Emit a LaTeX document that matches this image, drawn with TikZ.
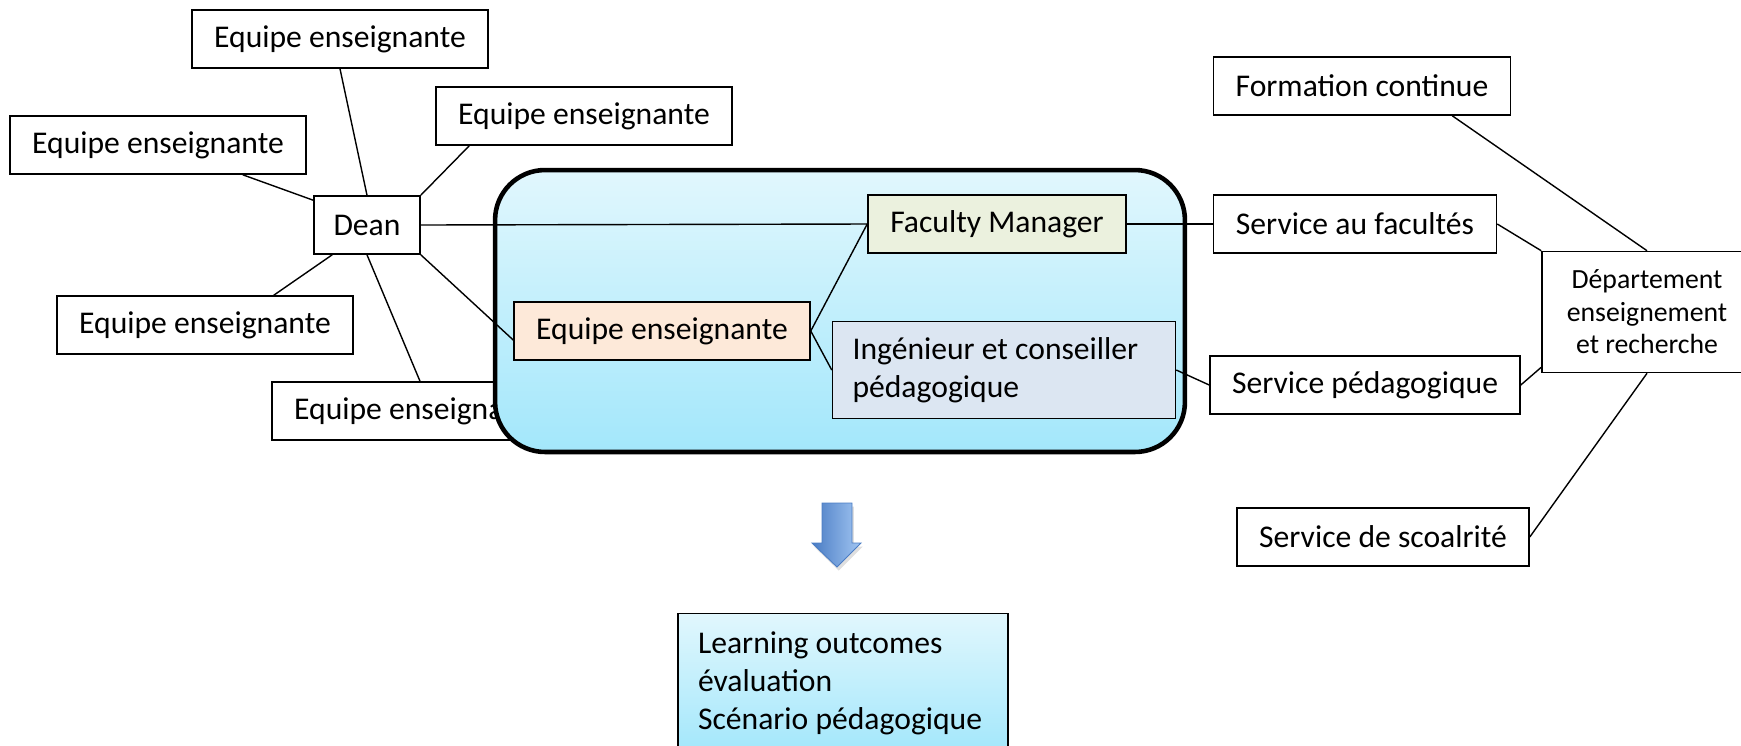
\documentclass[tikz,border=0pt]{standalone}
\usepackage{fontspec}
\setmainfont{Carlito}
\usetikzlibrary{shadows}

\definecolor{fmgreen}{HTML}{EBF1DE}
\definecolor{teampeach}{HTML}{FDE9D9}
\definecolor{ingblue}{HTML}{DCE6F2}
\definecolor{skytop}{HTML}{E1F7FD}
\definecolor{skybot}{HTML}{A3E7FB}
\definecolor{arrowdark}{HTML}{4A7CC4}
\definecolor{arrowlight}{HTML}{A2C6F2}

\begin{document}
\begin{tikzpicture}[x=0.02cm,y=-0.02cm,
  box/.style={draw,line width=0.9pt,fill=white,inner sep=0pt,
    minimum height=1.16cm,font=\fontsize{18}{21.6}\selectfont},
  eqbox/.style={box,minimum width=5.92cm},
  link/.style={line width=0.8pt}]
\useasboundingbox (0,0) rectangle (1741,745);

% Teams around the dean
\node[eqbox] (ee1) at (340,39) {Equipe enseignante};
\node[eqbox] (ee2) at (584,116) {Equipe enseignante};
\node[eqbox] (ee0) at (158,145) {Equipe enseignante};
\node[box,minimum width=2.12cm] (dean) at (367,225) {Dean};
\node[eqbox] (ee3) at (205,325) {Equipe enseignante};
\node[eqbox] (ee4) at (420,411) {Equipe enseignante};

% Central group
\node[draw,line width=2.6pt,rounded corners=1cm,top color=skytop,bottom color=skybot,
  minimum width=13.8cm,minimum height=5.64cm] (team) at (840,311) {};
\node[box,fill=fmgreen,minimum width=5.16cm] (fm) at (997,224) {Faculty Manager};
\node[eqbox,fill=teampeach] (eei) at (662,331) {Equipe enseignante};
\node[box,fill=ingblue,inner xsep=0.4cm,text width=6.06cm,align=flush left,
  minimum height=1.94cm] (ing) at (1004,370) {Ingénieur et conseiller\\pédagogique};

% Services
\node[box,minimum width=5.94cm] (fc) at (1362,86) {Formation continue};
\node[box,minimum width=5.66cm] (saf) at (1355,224) {Service au facultés};
\node[box,minimum width=4.2cm,minimum height=2.42cm,align=center,
  font=\fontsize{15.8}{18.5}\selectfont] (dept) at (1647,312) {Département\\enseignement\\et recherche};
\node[box,minimum width=6.2cm] (sp) at (1365,385) {Service pédagogique};
\node[box,minimum width=5.84cm] (sds) at (1383,537) {Service de scoalrité};

% Links
\draw[link] (ee1.south) -- (dean.north);
\draw[link] (dean.north east) -- ([xshift=0.68cm]ee2.south west);
\draw[link] ([xshift=-1.28cm]ee0.south east) -- ([yshift=-0.1cm]dean.north west);
\draw[link] ([xshift=0.38cm]dean.south west) -- ([xshift=-1.6cm]ee3.north east);
\draw[link] (dean.south) -- (ee4.north);
\draw[link] (dean.east) -- (fm.west);
\draw[link] (dean.south east) -- ([yshift=-0.18cm]eei.west);
\draw[link] (eei.east) -- (fm.west);
\draw[link] (eei.east) -- (ing.west);
\draw[link] (fm.east) -- (saf.west);
\draw[link] (ing.east) -- (sp.west);
\draw[link] ([xshift=-1.18cm]fc.south east) -- (dept.north);
\draw[link] (saf.east) -- (dept.north west);
\draw[link] (sp.east) -- ([yshift=0.12cm]dept.south west);
\draw[link] (sds.east) -- (dept.south);

% Down arrow
\draw[arrowdark,line width=0.5pt,left color=arrowdark,right color=arrowlight,
  drop shadow={opacity=0.25,shadow xshift=1pt,shadow yshift=-2pt}]
  (822,503) -- (852,503) -- (852,543) -- (861,543) -- (837,567)
  -- (812,543) -- (822,543) -- cycle;

% Result
\node[box,top color=skytop,bottom color=skybot,inner xsep=0.4cm,text width=5.8cm,
  align=flush left,minimum height=2.78cm] (lo) at (843,683)
  {Learning outcomes\\évaluation\\Scénario pédagogique};
\end{tikzpicture}
\end{document}
